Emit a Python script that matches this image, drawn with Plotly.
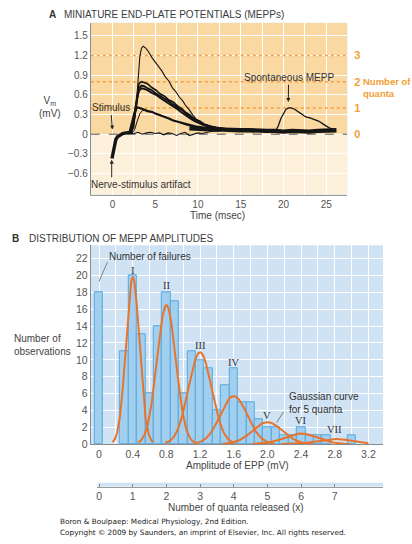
import numpy as np
import plotly.graph_objects as go

W, H = 412, 544
FONT = "Liberation Sans"
SERIF = "Liberation Serif"
INK = "#333333"
TICK = "#555555"
ORANGE_TXT = "#f0a035"
CURVE = "#e8742c"

# ---------------- Panel A: recorded end-plate potentials ----------------
t_artifact = [-0.05, 0.05, 0.2, 0.4, 0.6, 0.9, 1.2, 1.6, 2.0, 2.4]
v_artifact = [-0.37, -0.30, -0.16, -0.08, -0.04, -0.01, 0.01, 0.02, 0.02, 0.03]

t_big = [2.2, 2.5, 2.8, 3.0, 3.2, 3.4, 3.6, 3.9, 4.2, 4.6, 5.0, 5.4, 5.8, 6.2,
         6.6, 7.0, 7.4, 7.8, 8.2, 8.6, 9.0, 9.4, 9.8, 10.3, 10.8, 11.4, 12.0, 12.8]
v_big = [0.03, 0.10, 0.45, 0.85, 1.18, 1.31, 1.34, 1.31, 1.26, 1.17, 1.10, 1.02,
         0.96, 0.87, 0.81, 0.71, 0.65, 0.57, 0.51, 0.43, 0.37, 0.29, 0.23, 0.18,
         0.14, 0.10, 0.08, 0.07]

t_cluster = [2.1, 2.4, 2.7, 2.9, 3.1, 3.4, 3.7, 4.1, 4.6, 5.1, 5.6, 6.1, 6.6,
             7.1, 7.6, 8.1, 8.6, 9.1, 9.6, 10.2, 10.8, 11.5, 12.3, 13.2]
v_cluster1 = [0.03, 0.14, 0.42, 0.64, 0.77, 0.80, 0.79, 0.77, 0.71, 0.67, 0.61,
              0.58, 0.52, 0.49, 0.43, 0.39, 0.33, 0.29, 0.23, 0.20, 0.15, 0.12,
              0.10, 0.08]
v_cluster2 = [0.03, 0.12, 0.38, 0.58, 0.70, 0.74, 0.73, 0.70, 0.67, 0.62, 0.58,
              0.55, 0.50, 0.45, 0.41, 0.37, 0.31, 0.26, 0.22, 0.17, 0.14, 0.12,
              0.09, 0.08]
v_cluster3 = [0.02, 0.11, 0.35, 0.55, 0.66, 0.70, 0.69, 0.67, 0.63, 0.60, 0.55,
              0.51, 0.47, 0.42, 0.38, 0.33, 0.28, 0.24, 0.20, 0.16, 0.13, 0.11,
              0.09, 0.08]

t_one_a = [2.0, 2.3, 2.6, 2.9, 3.2, 3.6, 4.1, 4.6, 5.1, 5.6, 6.1, 6.6, 7.1, 7.6,
           8.1, 8.6, 9.1, 9.7, 10.3, 11.0, 11.8]
v_one_a = [0.03, 0.18, 0.34, 0.41, 0.40, 0.38, 0.35, 0.34, 0.31, 0.29, 0.26,
           0.24, 0.21, 0.19, 0.17, 0.15, 0.14, 0.12, 0.11, 0.09, 0.08]

t_one_b = [2.3, 2.6, 2.9, 3.2, 3.5, 3.9, 4.4, 5.0, 5.6, 6.2, 6.8, 7.4, 8.0,
           8.6, 9.2, 9.9, 10.6]
v_one_b = [0.02, 0.07, 0.20, 0.31, 0.36, 0.37, 0.35, 0.32, 0.29, 0.26, 0.22,
           0.20, 0.17, 0.14, 0.12, 0.10, 0.08]

t_fail = [2.0, 2.5, 3.0, 3.5, 4.0, 4.5, 5.0, 5.5, 6.0, 6.5, 7.0, 7.5, 8.0, 8.5,
          9.0, 9.5, 10.0, 10.5, 11.0, 11.5, 12.0, 12.5]
v_fail = [0.02, 0.01, 0.03, 0.00, 0.02, 0.03, 0.01, 0.02, -0.01, 0.02, 0.01,
          -0.02, 0.01, 0.03, -0.02, 0.00, 0.02, 0.01, 0.03, 0.04, 0.05, 0.05]

t_tail = [9.0, 10.0, 11.0, 12.0, 13.0, 14.0, 15.0, 16.0, 17.0, 18.0, 19.0,
          20.0, 21.0, 22.0, 23.0, 24.0, 25.0, 26.2]
v_tail = [0.09, 0.08, 0.08, 0.07, 0.07, 0.06, 0.06, 0.06, 0.05, 0.05, 0.05,
          0.04, 0.05, 0.04, 0.04, 0.05, 0.05, 0.06]

t_spont = [19.1, 19.4, 19.7, 20.0, 20.3, 20.6, 20.9, 21.3, 21.7, 22.1, 22.4,
           22.7, 23.1, 23.5, 24.1, 24.7, 25.3, 25.9]
v_spont = [0.05, 0.13, 0.24, 0.32, 0.38, 0.40, 0.40, 0.38, 0.35, 0.31, 0.28,
           0.26, 0.25, 0.23, 0.20, 0.15, 0.10, 0.07]

quanta_levels = [0, 1, 2, 3]
quantal_size_mv = 0.4

time_ticks = [0, 5, 10, 15, 20, 25]
vm_ticks = [-0.6, -0.3, 0, 0.3, 0.6, 0.9, 1.2, 1.5]
vm_labels = ["\u22120.6", "\u22120.3", "0", "0.3", "0.6", "0.9", "1.2", "1.5"]

# ---------------- Panel B: amplitude histogram ----------------
amp_bins = [0.0, 0.3, 0.4, 0.5, 0.6, 0.7, 0.8, 0.9, 1.0, 1.1, 1.2, 1.3, 1.4,
            1.5, 1.6, 1.7, 1.8, 1.9, 2.0, 2.1, 2.2, 2.3, 2.4, 2.5, 2.6, 2.7, 3.0]
counts = [18, 11, 20, 13, 6, 14, 18, 17, 6, 11, 10, 9, 4, 7, 9, 5, 5, 3, 2, 2,
          1, 1, 2, 1, 1, 1, 1]

gauss_labels = ["I", "II", "III", "IV", "V", "VI", "VII"]
gauss_means = [0.4, 0.8, 1.2, 1.6, 2.0, 2.4, 2.8]
gauss_peaks = [19.8, 16.5, 10.9, 5.7, 2.6, 1.25, 0.6]
gauss_sigma = [0.08, 0.112, 0.138, 0.16, 0.178, 0.195, 0.21]
label_heights = [20.6, 18.8, 11.7, 9.7, 3.35, 2.75, 1.75]

amp_ticks = [0, 0.4, 0.8, 1.2, 1.6, 2.0, 2.4, 2.8, 3.2]
amp_labels = ["0", "0.4", "0.8", "1.2", "1.6", "2.0", "2.4", "2.8", "3.2"]
count_ticks = list(range(0, 23, 2))
quanta_ticks = [0, 1, 2, 3, 4, 5, 6, 7]

# ---------------- geometry helpers (pixel -> paper) ----------------
def px(x):
    return x / W


def py(y):
    return 1 - y / H


XA_RANGE = [-2.53, 27.45]
YA_RANGE = [-0.923, 1.697]
XB_RANGE = [-0.098, 3.374]
YB_RANGE = [0, 23.6]

fig = go.Figure()

# quantal reference levels (drawn first so the recordings sit on top)
for q in quanta_levels:
    yq = q * quantal_size_mv
    if q == 0:
        style = dict(color="#555555", width=1, dash="dash")
    else:
        style = dict(color="#f5a040", width=1.5, dash="dot")
    fig.add_trace(go.Scatter(x=XA_RANGE, y=[yq, yq], mode="lines",
                             xaxis="x", yaxis="y", line=style,
                             hoverinfo="skip", showlegend=False))

# Panel A traces
black = "#151515"
traces_a = [
    (t_artifact, v_artifact, 3.4),
    (t_tail, v_tail, 4.3),
    (t_fail, v_fail, 1.1),
    (t_one_b, v_one_b, 1.0),
    (t_one_a, v_one_a, 2.1),
    (t_cluster, v_cluster3, 1.9),
    (t_cluster, v_cluster2, 1.9),
    (t_cluster, v_cluster1, 1.7),
    (t_big, v_big, 1.1),
    (t_spont, v_spont, 1.3),
]
for tx, vy, w in traces_a:
    fig.add_trace(go.Scatter(x=tx, y=vy, mode="lines", xaxis="x", yaxis="y",
                             line=dict(color=black, width=w),
                             hoverinfo="skip", showlegend=False))

# anchor trace for the right-hand quanta axis
fig.add_trace(go.Scatter(x=[0], y=[0], mode="markers", xaxis="x", yaxis="y4",
                         marker=dict(opacity=0), hoverinfo="skip",
                         showlegend=False))

# Panel B histogram
fig.add_trace(go.Bar(x=amp_bins, y=counts, width=0.1, xaxis="x2", yaxis="y2",
                     marker=dict(color="#a3cfee",
                                 line=dict(color="#55a9e0", width=1)),
                     hoverinfo="skip", showlegend=False))

# Gaussian components for 1..7 quanta
for mu, peak, sd in zip(gauss_means, gauss_peaks, gauss_sigma):
    lo = mu - 3 * sd
    hi = min(mu + 3 * sd, 3.2)
    xs = np.linspace(lo, hi, 120)
    ys = peak * np.exp(-0.5 * ((xs - mu) / sd) ** 2)
    fig.add_trace(go.Scatter(x=xs, y=ys, mode="lines", xaxis="x2", yaxis="y2",
                             line=dict(color=CURVE, width=2),
                             hoverinfo="skip", showlegend=False))

# anchor trace for the quanta-released axis
fig.add_trace(go.Scatter(x=[0], y=[0], mode="markers", xaxis="x3", yaxis="y3",
                         marker=dict(opacity=0), hoverinfo="skip",
                         showlegend=False))

tickfont = dict(family=FONT, size=10, color=TICK)

fig.update_layout(
    width=W, height=H,
    margin=dict(l=0, r=0, t=0, b=0),
    paper_bgcolor="white",
    plot_bgcolor="#cfe3f4",
    bargap=0,
    xaxis=dict(domain=[px(90), px(347)], range=XA_RANGE, anchor="y",
               tickvals=time_ticks, ticks="", tickfont=tickfont,
               showgrid=True, gridcolor="white", gridwidth=1,
               minor=dict(dtick=2.5, tick0=0, showgrid=True,
                          gridcolor="white", gridwidth=1),
               zeroline=False, showline=True, linecolor="#9a9a9a",
               linewidth=1),
    yaxis=dict(domain=[py(197), py(23)], range=YA_RANGE, anchor="x",
               tickvals=vm_ticks, ticktext=vm_labels, ticks="",
               tickfont=tickfont, showgrid=True, gridcolor="white",
               gridwidth=1, zeroline=False, showline=True,
               linecolor="#8a8a8a", linewidth=1),
    yaxis4=dict(overlaying="y", side="right", anchor="x", range=YA_RANGE,
                tickvals=[q * quantal_size_mv for q in quanta_levels],
                ticktext=[str(q) for q in quanta_levels],
                ticks="outside", ticklen=4, tickcolor="rgba(0,0,0,0)",
                tickfont=dict(family=FONT, size=11, color=ORANGE_TXT,
                              weight="bold"),
                showgrid=False, zeroline=False, showline=False),
    xaxis2=dict(domain=[px(90), px(383)], range=XB_RANGE, anchor="y2",
                tickvals=amp_ticks, ticktext=amp_labels, ticks="",
                tickfont=dict(family=FONT, size=10.5, color=TICK),
                showgrid=True, gridcolor="white", gridwidth=1,
                minor=dict(dtick=0.2, tick0=0, showgrid=True,
                           gridcolor="white", gridwidth=1),
                zeroline=False, showline=True, linecolor="#8a8a8a",
                linewidth=1),
    yaxis2=dict(domain=[py(449), py(248)], range=YB_RANGE, anchor="x2",
                tickvals=count_ticks, ticks="",
                tickfont=dict(family=FONT, size=10.5, color=TICK),
                showgrid=True, gridcolor="white", gridwidth=1,
                zeroline=False, showline=True, linecolor="#8a8a8a",
                linewidth=1),
    xaxis3=dict(domain=[px(96.7), px(383)],
                range=[(96.7 - 98.3) / 33.75, (383 - 98.3) / 33.75],
                anchor="y3", tickvals=quanta_ticks, ticks="inside",
                ticklen=3, tickcolor="#8a8a8a",
                tickfont=dict(family=FONT, size=10.5, color=TICK),
                showgrid=False, zeroline=False, showline=True,
                linecolor="#9a9a9a", linewidth=1),
    yaxis3=dict(domain=[py(492), py(488)], anchor="x3", visible=False,
                range=[0, 1]),
)

shapes = []
# shaded regions of panel A: above and below the resting level
shapes.append(dict(type="rect", xref="x domain", yref="y", x0=0, x1=1,
                   y0=0, y1=YA_RANGE[1], fillcolor="#f9d8a2",
                   line=dict(width=0), layer="below"))
shapes.append(dict(type="rect", xref="x domain", yref="y", x0=0, x1=1,
                   y0=YA_RANGE[0], y1=0, fillcolor="#fdf0da",
                   line=dict(width=0), layer="below"))
# leader lines in panel B
shapes.append(dict(type="line", xref="x2", yref="y2", x0=0.0, y0=19.3,
                   x1=0.1, y1=21.6, line=dict(color="#666666", width=0.8)))
shapes.append(dict(type="line", xref="x2", yref="y2", x0=2.11, y0=2.55,
                   x1=2.19, y1=3.8, line=dict(color="#666666", width=0.8)))
fig.update_layout(shapes=shapes)

txt = dict(family=FONT, size=10, color=INK)
ann = []


def paper_text(text, x, y, xanchor="left", size=10, color=INK, bold=False,
               family=FONT, align="left"):
    f = dict(family=family, size=size, color=color)
    if bold:
        f["weight"] = "bold"
    ann.append(dict(text=text, xref="paper", yref="paper", x=px(x), y=py(y),
                    xanchor=xanchor, yanchor="middle", showarrow=False,
                    font=f, align=align))


# titles
paper_text("A", 46, 15, bold=True, size=10)
paper_text("MINIATURE END-PLATE POTENTIALS (MEPPs)", 61, 15, size=10,
           color="#3a3a3a")
paper_text("B", 9, 241, bold=True, size=10)
paper_text("DISTRIBUTION OF MEPP AMPLITUDES", 26, 241, size=10,
           color="#3a3a3a")

# panel A axis titles
paper_text("V<sub>m</sub><br>(mV)", 49, 108, xanchor="center", size=10,
           color="#444444", align="center")
paper_text("Time (msec)", 217, 218, xanchor="center", size=10,
           color="#444444")
paper_text("Number of<br>quanta", 361, 88, size=9.5, color=ORANGE_TXT,
           bold=True)

# panel A annotations
ann.append(dict(text="Stimulus", xref="x", yref="y", axref="x", ayref="y",
                x=0.0, y=0.07, ax=-0.2, ay=0.40, showarrow=True,
                arrowhead=2, arrowsize=0.8, arrowwidth=1, arrowcolor="#222",
                font=txt))
ann.append(dict(text="Nerve-stimulus artifact", xref="x", yref="y",
                x=3.3, y=-0.77, showarrow=False, font=txt))
ann.append(dict(text="", xref="x", yref="y", axref="x", ayref="y",
                x=-0.08, y=-0.39, ax=-0.08, ay=-0.68, showarrow=True,
                arrowhead=2, arrowsize=0.8, arrowwidth=1, arrowcolor="#222"))
ann.append(dict(text="Spontaneous MEPP", xref="x", yref="y", axref="x",
                ayref="y", x=20.57, y=0.49, ax=20.6, ay=0.86,
                showarrow=True, arrowhead=2, arrowsize=0.8, arrowwidth=1,
                arrowcolor="#222", font=txt))

# panel B annotations
ann.append(dict(text="Number of failures", xref="x2", yref="y2", x=0.1,
                y=22.25, xanchor="left", showarrow=False, font=txt))
for lab, mu, yh in zip(gauss_labels, gauss_means, label_heights):
    ann.append(dict(text=lab, xref="x2", yref="y2", x=mu, y=yh,
                    showarrow=False,
                    font=dict(family=SERIF, size=10.5, color=INK)))
ann.append(dict(text="Gaussian curve<br>for 5 quanta", xref="x2", yref="y2",
                x=2.23, y=4.85, xanchor="left", align="left",
                showarrow=False, font=txt))
paper_text("Number of<br>observations", 11, 349, size=10, color="#444444")
paper_text("Amplitude of EPP (mV)", 237, 471, xanchor="center", size=10,
           color="#444444")
paper_text("Number of quanta released (x)", 236, 513, xanchor="center",
           size=10, color="#444444")

# credit lines
paper_text("Boron &amp; Boulpaep: Medical Physiology, 2nd Edition.", 57, 527,
           size=7.3, family="DejaVu Sans", color="#222222")
paper_text("Copyright \u00a9 2009 by Saunders, an imprint of Elsevier, Inc. "
           "All rights reserved.", 57, 538, size=7.3, family="DejaVu Sans",
           color="#222222")

fig.update_layout(annotations=ann)
fig.write_html("out.html")
